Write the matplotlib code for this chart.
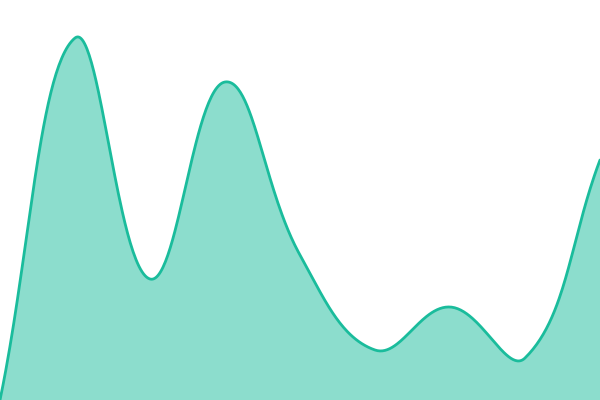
import numpy as np
import matplotlib
matplotlib.use("Agg")
import matplotlib.pyplot as plt

# data: 9 evenly spaced points
x_vals = [0, 1, 2, 3, 4, 5, 6, 7, 8]
y_vals = [0, 362, 121, 318, 145, 50, 93, 42, 240]

LINE = "#1abc9c"
TENSION = 0.4


def spline_curve(px, py, t=TENSION, steps=60):
    # chart.js-like bezier spline through the points (in display-like units)
    n = len(px)
    pts = np.column_stack([px, py]).astype(float)
    cp_prev = np.zeros_like(pts)
    cp_next = np.zeros_like(pts)
    for i in range(n):
        prev = pts[max(i - 1, 0)]
        cur = pts[i]
        nxt = pts[min(i + 1, n - 1)]
        d01 = np.hypot(*(cur - prev))
        d12 = np.hypot(*(nxt - cur))
        s01 = d01 / (d01 + d12) if d01 + d12 else 0
        s12 = d12 / (d01 + d12) if d01 + d12 else 0
        cp_prev[i] = cur - t * s01 * (nxt - prev)
        cp_next[i] = cur + t * s12 * (nxt - prev)
    u = np.linspace(0, 1, steps)[:, None]
    out = []
    for i in range(n - 1):
        p0, p1, p2, p3 = pts[i], cp_next[i], cp_prev[i + 1], pts[i + 1]
        seg = ((1 - u) ** 3) * p0 + 3 * ((1 - u) ** 2) * u * p1 \
            + 3 * (1 - u) * u ** 2 * p2 + u ** 3 * p3
        out.append(seg if i == 0 else seg[1:])
    out = np.vstack(out)
    return out[:, 0], out[:, 1]


fig = plt.figure(figsize=(6, 4), dpi=100)
ax = fig.add_axes([0, 0, 1, 1])

# work in pixel units so the spline bends like the original
x_px = np.array(x_vals) * 75.0
y_px = np.array(y_vals, dtype=float)
cx, cy = spline_curve(x_px, y_px)

ax.fill_between(cx, cy, 0, color=LINE, alpha=0.5, linewidth=0)
ax.plot(cx, cy, color=LINE, linewidth=2.0, solid_capstyle="round")

ax.set_xlim(0, 600)
ax.set_ylim(0, 400)
ax.axis("off")

fig.savefig("out.png", dpi=100)
